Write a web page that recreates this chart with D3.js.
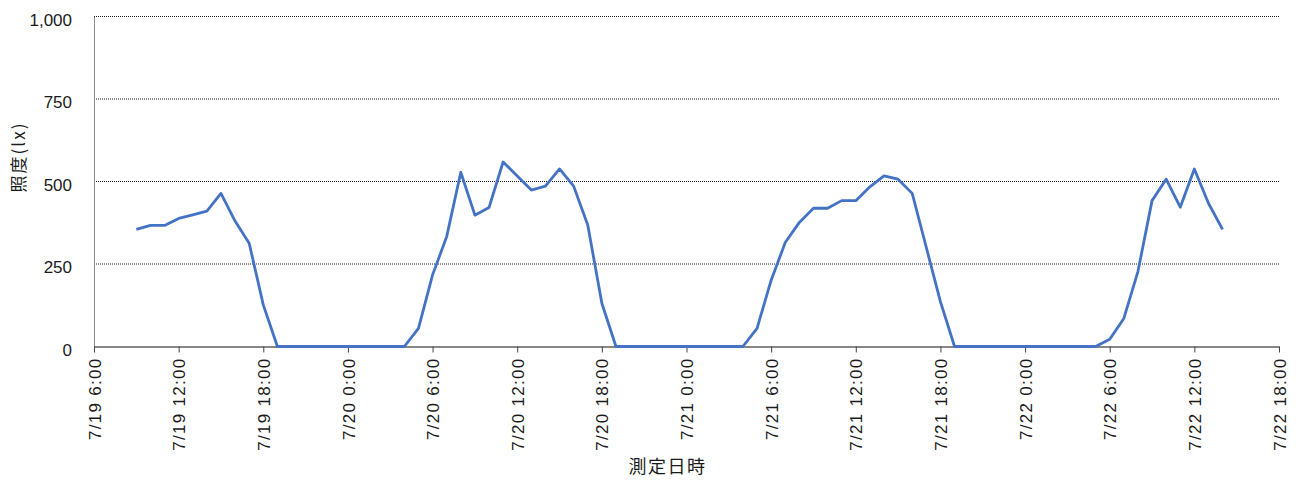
<!DOCTYPE html>
<html>
<head>
<meta charset="utf-8">
<script src="https://cdn.jsdelivr.net/npm/d3@7"></script>
<style>
  html, body { margin: 0; padding: 0; background: #fff; }
  svg { display: block; }
  text { font-family: "Liberation Sans", Arial, "Noto Sans CJK JP", sans-serif; fill: #1a1a1a; }
  .jp { font-family: "Noto Sans CJK JP", sans-serif; }
</style>
</head>
<body>
<svg id="chart" width="1304" height="481"></svg>
<script>
// Hourly illuminance readings, 7/19 9:00 through 7/22 14:00
const firstReading = "2023-07-19T09:00";
const lastReading = "2023-07-22T14:00";
const illuminance = [
  // 7/19 9:00 - 23:00
  355, 367, 367, 388, 399, 410, 464, 380, 313, 126, 0, 0, 0, 0, 0,
  // 7/20 0:00 - 23:00
  0, 0, 0, 0, 0, 55, 217, 333, 528, 398, 421, 559, 517, 474, 486, 538, 486, 368, 131, 0, 0, 0, 0, 0,
  // 7/21 0:00 - 23:00
  0, 0, 0, 0, 0, 55, 201, 315, 376, 419, 419, 442, 442, 484, 517, 507, 464, 300, 136, 0, 0, 0, 0, 0,
  // 7/22 0:00 - 14:00
  0, 0, 0, 0, 0, 0, 22, 85, 227, 442, 507, 422, 538, 434, 355
];
const axisStart = "2023-07-19T06:00";
const axisEnd = "2023-07-22T18:00";
const yTicks = [0, 250, 500, 750, 1000];
const yTitle = "照度(lx)";
const xTitle = "測定日時";

const parse = d3.isoParse;
const times = d3.timeHour.range(parse(firstReading), d3.timeHour.offset(parse(lastReading), 1));
const series = times.map((t, i) => ({ t, v: illuminance[i] }));

const svg = d3.select("#chart");
const plot = { left: 94, right: 1279, top: 16.5, bottom: 346.5 };

const x = d3.scaleTime().domain([parse(axisStart), parse(axisEnd)]).range([plot.left, plot.right]);
const y = d3.scaleLinear().domain([0, 1000]).range([plot.bottom, plot.top]);

// horizontal dotted gridlines
svg.append("g")
  .selectAll("line")
  .data(yTicks.filter(d => d > 0))
  .join("line")
  .attr("x1", plot.left).attr("x2", plot.right)
  .attr("y1", d => y(d)).attr("y2", d => y(d))
  .attr("stroke", "#222")
  .attr("stroke-width", 1)
  .attr("stroke-dasharray", "1,1");

// y axis
const yAxis = svg.append("g").attr("transform", `translate(${plot.left},0)`)
  .call(d3.axisLeft(y).tickValues(yTicks).tickSize(0).tickPadding(22).tickFormat(d3.format(",")));
yAxis.select(".domain").attr("stroke", "#8c8c8c");
yAxis.selectAll("text")
  .attr("font-size", 17)
  .attr("font-family", null)
  .attr("dy", "0.5em")
  .style("fill", "#1a1a1a");

// x axis with 6-hour ticks and rotated labels
const fmt = d3.timeFormat("%-m/%-d %-H:%M");
const xAxis = svg.append("g").attr("transform", `translate(0,${plot.bottom})`)
  .call(d3.axisBottom(x).ticks(d3.timeHour.every(6)).tickSize(6).tickSizeOuter(0).tickFormat(fmt));
xAxis.select(".domain").attr("stroke", "#111");
xAxis.selectAll(".tick line").attr("stroke", "#444");
xAxis.selectAll("text")
  .attr("font-size", 17)
  .attr("font-family", null)
  .attr("letter-spacing", "1.3px")
  .attr("text-anchor", "end")
  .attr("transform", "rotate(-90)")
  .attr("x", -11)
  .attr("y", 0)
  .attr("dy", "0.36em")
  .style("fill", "#1a1a1a");

// illuminance line
const line = d3.line().x(d => x(d.t)).y(d => y(d.v));
svg.append("path")
  .datum(series)
  .attr("fill", "none")
  .attr("stroke", "#4472C4")
  .attr("stroke-width", 2.8)
  .attr("stroke-linejoin", "round")
  .attr("d", line);

// axis titles
svg.append("text")
  .attr("class", "jp")
  .attr("transform", "translate(19,157) rotate(-90)")
  .attr("text-anchor", "middle")
  .attr("dy", "0.35em")
  .attr("font-size", 17)
  .attr("letter-spacing", "2px")
  .text(yTitle);

svg.append("text")
  .attr("class", "jp")
  .attr("x", 667.5)
  .attr("y", 466.5)
  .attr("text-anchor", "middle")
  .attr("dy", "0.35em")
  .attr("font-size", 18)
  .attr("letter-spacing", "1.5px")
  .text(xTitle);
</script>
</body>
</html>
